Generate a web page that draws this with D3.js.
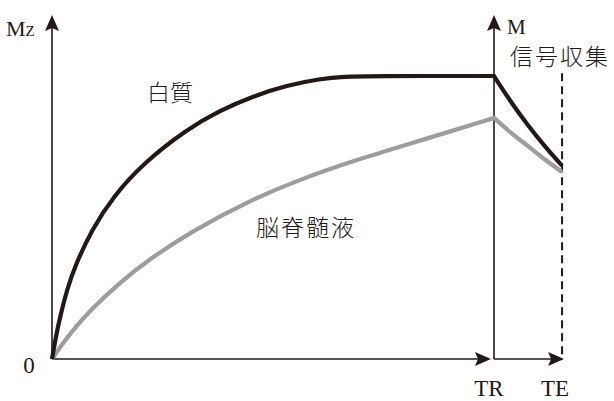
<!DOCTYPE html>
<html>
<head>
<meta charset="utf-8">
<script src="https://cdn.jsdelivr.net/npm/d3@7"></script>
<style>
  html, body { margin: 0; padding: 0; background: #fff; }
  svg { display: block; }
</style>
</head>
<body>
<svg id="chart" width="614" height="401"></svg>
<script>
// Longitudinal recovery (time 0 .. TR) and transverse decay (TR .. TE)
const TR = 100;
const TE = 115.4;

// White matter (白質): fast recovery to full magnetisation
const wmRecoveryT = [0, 0.90, 1.81, 3.39, 5.20, 9.05, 13.80, 20.59, 30.54, 38.01, 45.48, 53.17, 60.63, 66.29, 71.95, 100];
const wmRecoveryM = [0, 0.081, 0.148, 0.245, 0.329, 0.458, 0.573, 0.691, 0.812, 0.878, 0.929, 0.967, 0.990, 0.998, 1.0, 1.0];
const wmDecayT = [100, 103.8, 107.7, 111.5, 115.4];
const wmDecayM = [1.0, 0.910, 0.826, 0.752, 0.683];

// Cerebrospinal fluid (脳脊髄液): slow recovery
const csfRecoveryT = [0, 1.81, 4.07, 8.60, 15.38, 22.17, 31.22, 44.80, 56.11, 69.68, 85.52, 100];
const csfRecoveryM = [0, 0.041, 0.089, 0.172, 0.271, 0.354, 0.448, 0.561, 0.635, 0.708, 0.782, 0.852];
const csfDecayT = [100, 103.8, 107.7, 111.5, 115.4];
const csfDecayM = [0.852, 0.800, 0.752, 0.705, 0.661];

// Axis text
const tickLabels = ["0", "TR", "TE"];
const tickValues = [0, TR, TE];
const leftAxisLabel = "M";
const leftAxisSub = "Z";
const rightAxisLabel = "M";
const acquisitionLabel = "信号収集";
const seriesNames = ["白質", "脳脊髄液"];

const serifFont = "'Liberation Serif', 'DejaVu Serif', serif";
const cjkFont = "'Noto Sans CJK JP', sans-serif";

const svg = d3.select("#chart");
const ink = "#231815";
const grey = "#9d9d9d";

const x = d3.scaleLinear().domain([0, TR]).range([52, 494]);
const y = d3.scaleLinear().domain([0, 1]).range([359, 76]);
const yTop = y.invert(15);

// Filled arrowhead with a slightly notched base, pointing along +x
function arrowHead(g, tipX, tipY, angle) {
  g.append("path")
    .attr("d", "M0,0 L-16,-7 L-13,0 L-16,7 Z")
    .attr("transform", `translate(${tipX},${tipY}) rotate(${angle})`)
    .attr("fill", ink);
}

const axes = svg.append("g");
// Left vertical axis (Mz)
axes.append("line")
  .attr("x1", x(0)).attr("x2", x(0))
  .attr("y1", y(0)).attr("y2", y(yTop) + 6)
  .attr("stroke", ink).attr("stroke-width", 1.6);
arrowHead(axes, x(0), y(yTop), -90);

// Time axis up to TR
axes.append("line")
  .attr("x1", x(0)).attr("x2", x(TR) - 8)
  .attr("y1", y(0)).attr("y2", y(0))
  .attr("stroke", ink).attr("stroke-width", 1.6);
arrowHead(axes, x(TR) - 3, y(0), 0);

// Vertical axis at TR (M)
axes.append("line")
  .attr("x1", x(TR)).attr("x2", x(TR))
  .attr("y1", y(0)).attr("y2", y(yTop) + 6)
  .attr("stroke", ink).attr("stroke-width", 1.6);
arrowHead(axes, x(TR), y(yTop), -90);

// Time axis from TR to TE
axes.append("line")
  .attr("x1", x(TR)).attr("x2", x(TE) - 4)
  .attr("y1", y(0)).attr("y2", y(0))
  .attr("stroke", ink).attr("stroke-width", 1.6);
arrowHead(axes, x(TE) + 2, y(0), 0);

// Signal acquisition marker at TE
axes.append("line")
  .attr("x1", x(TE)).attr("x2", x(TE))
  .attr("y1", y(1.01)).attr("y2", y(0) - 3)
  .attr("stroke", ink).attr("stroke-width", 2)
  .attr("stroke-dasharray", "8,5");

// Curves: smooth recovery joined to the decay in one path so the corner at TR stays sharp
const recoveryLine = d3.line()
  .x(d => x(d[0]))
  .y(d => y(d[1]))
  .curve(d3.curveBasis);
const decayLine = d3.line()
  .x(d => x(d[0]))
  .y(d => y(d[1]))
  .curve(d3.curveMonotoneX);

function curvePath(tA, mA, tB, mB) {
  const a = recoveryLine(tA.map((t, i) => [t, mA[i]]));
  const b = decayLine(tB.map((t, i) => [t, mB[i]]));
  return a + "L" + b.slice(1);
}

svg.append("path")
  .attr("d", curvePath(csfRecoveryT, csfRecoveryM, csfDecayT, csfDecayM))
  .attr("fill", "none").attr("stroke", grey).attr("stroke-width", 4.2)
  .attr("stroke-linejoin", "miter");

svg.append("path")
  .attr("d", curvePath(wmRecoveryT, wmRecoveryM, wmDecayT, wmDecayM))
  .attr("fill", "none").attr("stroke", ink).attr("stroke-width", 4.2)
  .attr("stroke-linejoin", "miter");

// Tick labels
const tickOffsets = [-23, -5, -7];
svg.selectAll("text.tick")
  .data(tickLabels)
  .join("text")
  .attr("class", "tick")
  .attr("font-family", serifFont)
  .attr("fill", ink)
  .attr("x", (d, i) => x(tickValues[i]) + tickOffsets[i])
  .attr("y", (d, i) => i === 0 ? 373 : 396)
  .attr("text-anchor", "middle")
  .attr("font-size", 23)
  .text(d => d);

// Axis titles
const mz = svg.append("text")
  .attr("font-family", serifFont).attr("fill", ink)
  .attr("x", 6).attr("y", 36).attr("font-size", 22);
mz.append("tspan").text(leftAxisLabel);
mz.append("tspan").attr("font-size", 15).text(leftAxisSub);

svg.append("text")
  .attr("font-family", serifFont).attr("fill", ink)
  .attr("x", x(TR) + 13).attr("y", 34).attr("font-size", 21)
  .text(rightAxisLabel);

svg.append("text")
  .attr("font-family", cjkFont).attr("font-weight", 300).attr("fill", ink)
  .attr("x", 510).attr("y", 65).attr("font-size", 23)
  .attr("letter-spacing", 2)
  .text(acquisitionLabel);

// Series labels
svg.append("text")
  .attr("font-family", cjkFont).attr("font-weight", 300).attr("fill", ink)
  .attr("x", 147).attr("y", 101).attr("font-size", 23)
  .text(seriesNames[0]);
svg.append("text")
  .attr("font-family", cjkFont).attr("font-weight", 300).attr("fill", ink)
  .attr("x", 256).attr("y", 236).attr("font-size", 23)
  .attr("letter-spacing", 2)
  .text(seriesNames[1]);
</script>
</body>
</html>
